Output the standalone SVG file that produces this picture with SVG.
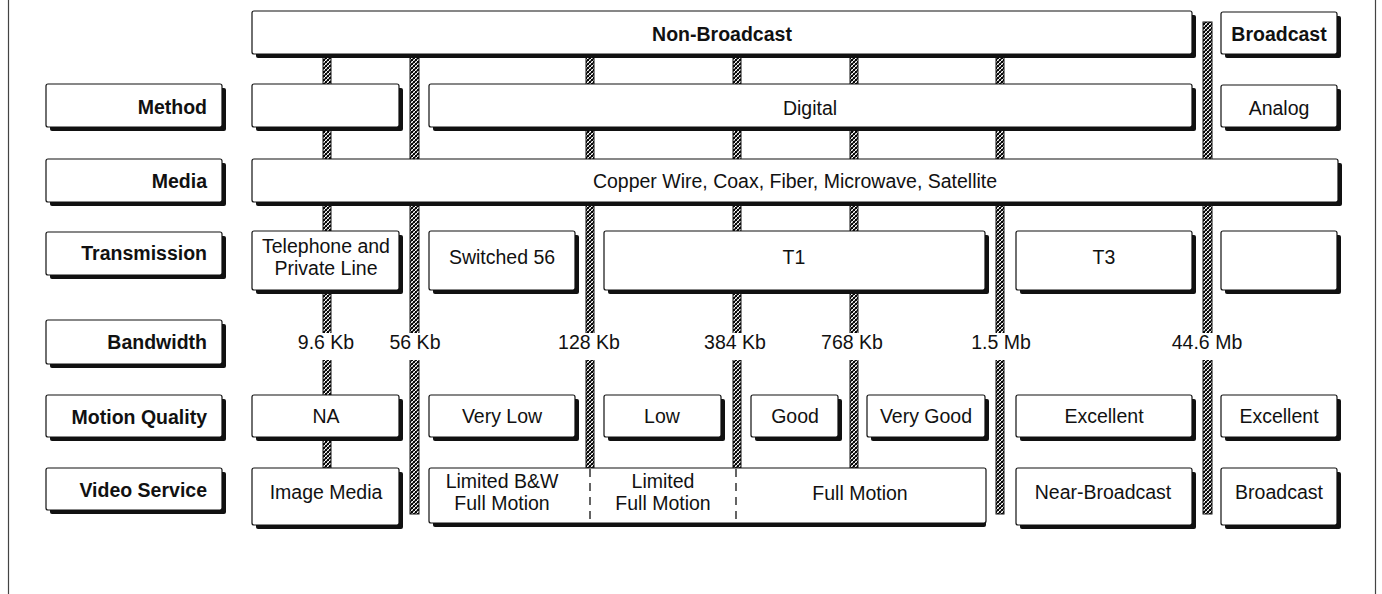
<svg xmlns="http://www.w3.org/2000/svg" width="1382" height="594" viewBox="0 0 1382 594">
<defs>
<pattern id="hatch" patternUnits="userSpaceOnUse" width="4" height="4">
<rect width="4" height="4" fill="#fff"/>
<path d="M-1,1 L1,-1 M0,4 L4,0 M3,5 L5,3" stroke="#000" stroke-width="1.4"/>
<path d="M-1,3 L1,5 M0,0 L4,4 M3,-1 L5,1" stroke="#000" stroke-width="0.9"/>
</pattern>
</defs>
<style>
.sh{fill:#111}
.bx{fill:#fff;stroke:#111;stroke-width:1.2}
.lb{font-family:"Liberation Sans",Arial,sans-serif;font-size:19.5px;font-weight:bold;fill:#111;text-anchor:end}
.tx{font-family:"Liberation Sans",Arial,sans-serif;font-size:19.5px;fill:#111;text-anchor:middle}
.tb{font-family:"Liberation Sans",Arial,sans-serif;font-size:19.5px;font-weight:bold;fill:#111;text-anchor:middle}
.bar{fill:url(#hatch);stroke:#111;stroke-width:1}
.frame{stroke:#444;stroke-width:1.2;fill:none}
.dash{stroke:#111;stroke-width:1.3;stroke-dasharray:8,6;fill:none}
.wb{fill:#fff}
</style>
<rect width="1382" height="594" fill="#fff"/>
<line class="frame" x1="8.5" y1="0" x2="8.5" y2="594"/>
<line class="frame" x1="1375.5" y1="0" x2="1375.5" y2="594"/>

<g id="connectors">
<rect class="bar" x="323" y="54" width="8" height="414"/>
<rect class="bar" x="410" y="54" width="9" height="460"/>
<rect class="bar" x="586" y="54" width="8" height="414"/>
<rect class="bar" x="733" y="54" width="8" height="414"/>
<rect class="bar" x="850" y="54" width="8" height="414"/>
<rect class="bar" x="996" y="54" width="8" height="460"/>
<rect class="bar" x="1203" y="22" width="9" height="492"/>
</g>

<g id="bandwidth-values">
<rect class="wb" x="296" y="333" width="60" height="27"/>
<text class="tx" x="326" y="349">9.6 Kb</text>
<rect class="wb" x="388" y="333" width="54" height="27"/>
<text class="tx" x="415" y="349">56 Kb</text>
<rect class="wb" x="558" y="333" width="62" height="27"/>
<text class="tx" x="589" y="349">128 Kb</text>
<rect class="wb" x="704" y="333" width="62" height="27"/>
<text class="tx" x="735" y="349">384 Kb</text>
<rect class="wb" x="821" y="333" width="62" height="27"/>
<text class="tx" x="852" y="349">768 Kb</text>
<rect class="wb" x="970" y="333" width="62" height="27"/>
<text class="tx" x="1001" y="349">1.5 Mb</text>
<rect class="wb" x="1171" y="333" width="73" height="27"/>
<text class="tx" x="1207" y="349">44.6 Mb</text>
</g>

<g id="non-broadcast"><rect class="sh" x="256" y="15" width="940" height="43" rx="2"/><rect class="bx" x="252" y="11" width="940" height="43" rx="2"/><text class="tb" x="722" y="41">Non-Broadcast</text></g>
<g id="broadcast-top"><rect class="sh" x="1225" y="16" width="116" height="42" rx="2"/><rect class="bx" x="1221" y="12" width="116" height="42" rx="2"/><text class="tb" x="1279" y="41">Broadcast</text></g>

<g id="label-method"><rect class="sh" x="50" y="88" width="176" height="43" rx="2"/><rect class="bx" x="46" y="84" width="176" height="43" rx="2"/><text class="lb" x="207" y="114">Method</text></g>
<g id="method-empty"><rect class="sh" x="256" y="88" width="147" height="43" rx="2"/><rect class="bx" x="252" y="84" width="147" height="43" rx="2"/></g>
<g id="digital"><rect class="sh" x="433" y="88" width="763" height="43" rx="2"/><rect class="bx" x="429" y="84" width="763" height="43" rx="2"/><text class="tx" x="810" y="115">Digital</text></g>
<g id="analog"><rect class="sh" x="1225" y="89" width="116" height="42" rx="2"/><rect class="bx" x="1221" y="85" width="116" height="42" rx="2"/><text class="tx" x="1279" y="115">Analog</text></g>

<g id="label-media"><rect class="sh" x="50" y="163" width="176" height="43" rx="2"/><rect class="bx" x="46" y="159" width="176" height="43" rx="2"/><text class="lb" x="207" y="188">Media</text></g>
<g id="media"><rect class="sh" x="256" y="163" width="1086" height="43" rx="2"/><rect class="bx" x="252" y="159" width="1086" height="43" rx="2"/><text class="tx" x="795" y="188">Copper Wire, Coax, Fiber, Microwave, Satellite</text></g>

<g id="label-transmission"><rect class="sh" x="50" y="236" width="176" height="43" rx="2"/><rect class="bx" x="46" y="232" width="176" height="43" rx="2"/><text class="lb" x="207" y="260">Transmission</text></g>
<g id="telephone"><rect class="sh" x="256" y="235" width="147" height="59" rx="2"/><rect class="bx" x="252" y="231" width="147" height="59" rx="2"/><text class="tx" x="326" y="253">Telephone and</text><text class="tx" x="326" y="275">Private Line</text></g>
<g id="switched56"><rect class="sh" x="433" y="235" width="146" height="59" rx="2"/><rect class="bx" x="429" y="231" width="146" height="59" rx="2"/><text class="tx" x="502" y="264">Switched 56</text></g>
<g id="t1"><rect class="sh" x="608" y="235" width="381" height="59" rx="2"/><rect class="bx" x="604" y="231" width="381" height="59" rx="2"/><text class="tx" x="794" y="264">T1</text></g>
<g id="t3"><rect class="sh" x="1020" y="235" width="176" height="59" rx="2"/><rect class="bx" x="1016" y="231" width="176" height="59" rx="2"/><text class="tx" x="1104" y="264">T3</text></g>
<g id="trans-empty"><rect class="sh" x="1225" y="235" width="116" height="59" rx="2"/><rect class="bx" x="1221" y="231" width="116" height="59" rx="2"/></g>

<g id="label-bandwidth"><rect class="sh" x="50" y="324" width="176" height="44" rx="2"/><rect class="bx" x="46" y="320" width="176" height="44" rx="2"/><text class="lb" x="207" y="349">Bandwidth</text></g>

<g id="label-motion"><rect class="sh" x="50" y="399" width="176" height="42" rx="2"/><rect class="bx" x="46" y="395" width="176" height="42" rx="2"/><text class="lb" x="207" y="424">Motion Quality</text></g>
<g id="mq-na"><rect class="sh" x="256" y="399" width="147" height="42" rx="2"/><rect class="bx" x="252" y="395" width="147" height="42" rx="2"/><text class="tx" x="326" y="423">NA</text></g>
<g id="mq-verylow"><rect class="sh" x="433" y="399" width="146" height="42" rx="2"/><rect class="bx" x="429" y="395" width="146" height="42" rx="2"/><text class="tx" x="502" y="423">Very Low</text></g>
<g id="mq-low"><rect class="sh" x="608" y="399" width="117" height="42" rx="2"/><rect class="bx" x="604" y="395" width="117" height="42" rx="2"/><text class="tx" x="662" y="423">Low</text></g>
<g id="mq-good"><rect class="sh" x="755" y="399" width="87" height="42" rx="2"/><rect class="bx" x="751" y="395" width="87" height="42" rx="2"/><text class="tx" x="795" y="423">Good</text></g>
<g id="mq-verygood"><rect class="sh" x="871" y="399" width="118" height="42" rx="2"/><rect class="bx" x="867" y="395" width="118" height="42" rx="2"/><text class="tx" x="926" y="423">Very Good</text></g>
<g id="mq-excellent"><rect class="sh" x="1020" y="399" width="176" height="42" rx="2"/><rect class="bx" x="1016" y="395" width="176" height="42" rx="2"/><text class="tx" x="1104" y="423">Excellent</text></g>
<g id="mq-excellent2"><rect class="sh" x="1225" y="399" width="116" height="42" rx="2"/><rect class="bx" x="1221" y="395" width="116" height="42" rx="2"/><text class="tx" x="1279" y="423">Excellent</text></g>

<g id="label-video"><rect class="sh" x="50" y="472" width="176" height="42" rx="2"/><rect class="bx" x="46" y="468" width="176" height="42" rx="2"/><text class="lb" x="207" y="497">Video Service</text></g>
<g id="vs-image"><rect class="sh" x="256" y="472" width="147" height="57" rx="2"/><rect class="bx" x="252" y="468" width="147" height="57" rx="2"/><text class="tx" x="326" y="499">Image Media</text></g>
<g id="vs-motion"><rect class="sh" x="433" y="472" width="553" height="55" rx="2"/><rect class="bx" x="429" y="468" width="557" height="55" rx="2"/>
<line class="dash" x1="590" y1="469" x2="590" y2="523"/>
<line class="dash" x1="736" y1="469" x2="736" y2="523"/>
<text class="tx" x="502" y="488">Limited B&amp;W</text><text class="tx" x="502" y="510">Full Motion</text>
<text class="tx" x="663" y="488">Limited</text><text class="tx" x="663" y="510">Full Motion</text>
<text class="tx" x="860" y="500">Full Motion</text></g>
<g id="vs-near"><rect class="sh" x="1020" y="472" width="176" height="57" rx="2"/><rect class="bx" x="1016" y="468" width="176" height="57" rx="2"/><text class="tx" x="1103" y="499">Near-Broadcast</text></g>
<g id="vs-broadcast"><rect class="sh" x="1225" y="472" width="116" height="57" rx="2"/><rect class="bx" x="1221" y="468" width="116" height="57" rx="2"/><text class="tx" x="1279" y="499">Broadcast</text></g>
</svg>
